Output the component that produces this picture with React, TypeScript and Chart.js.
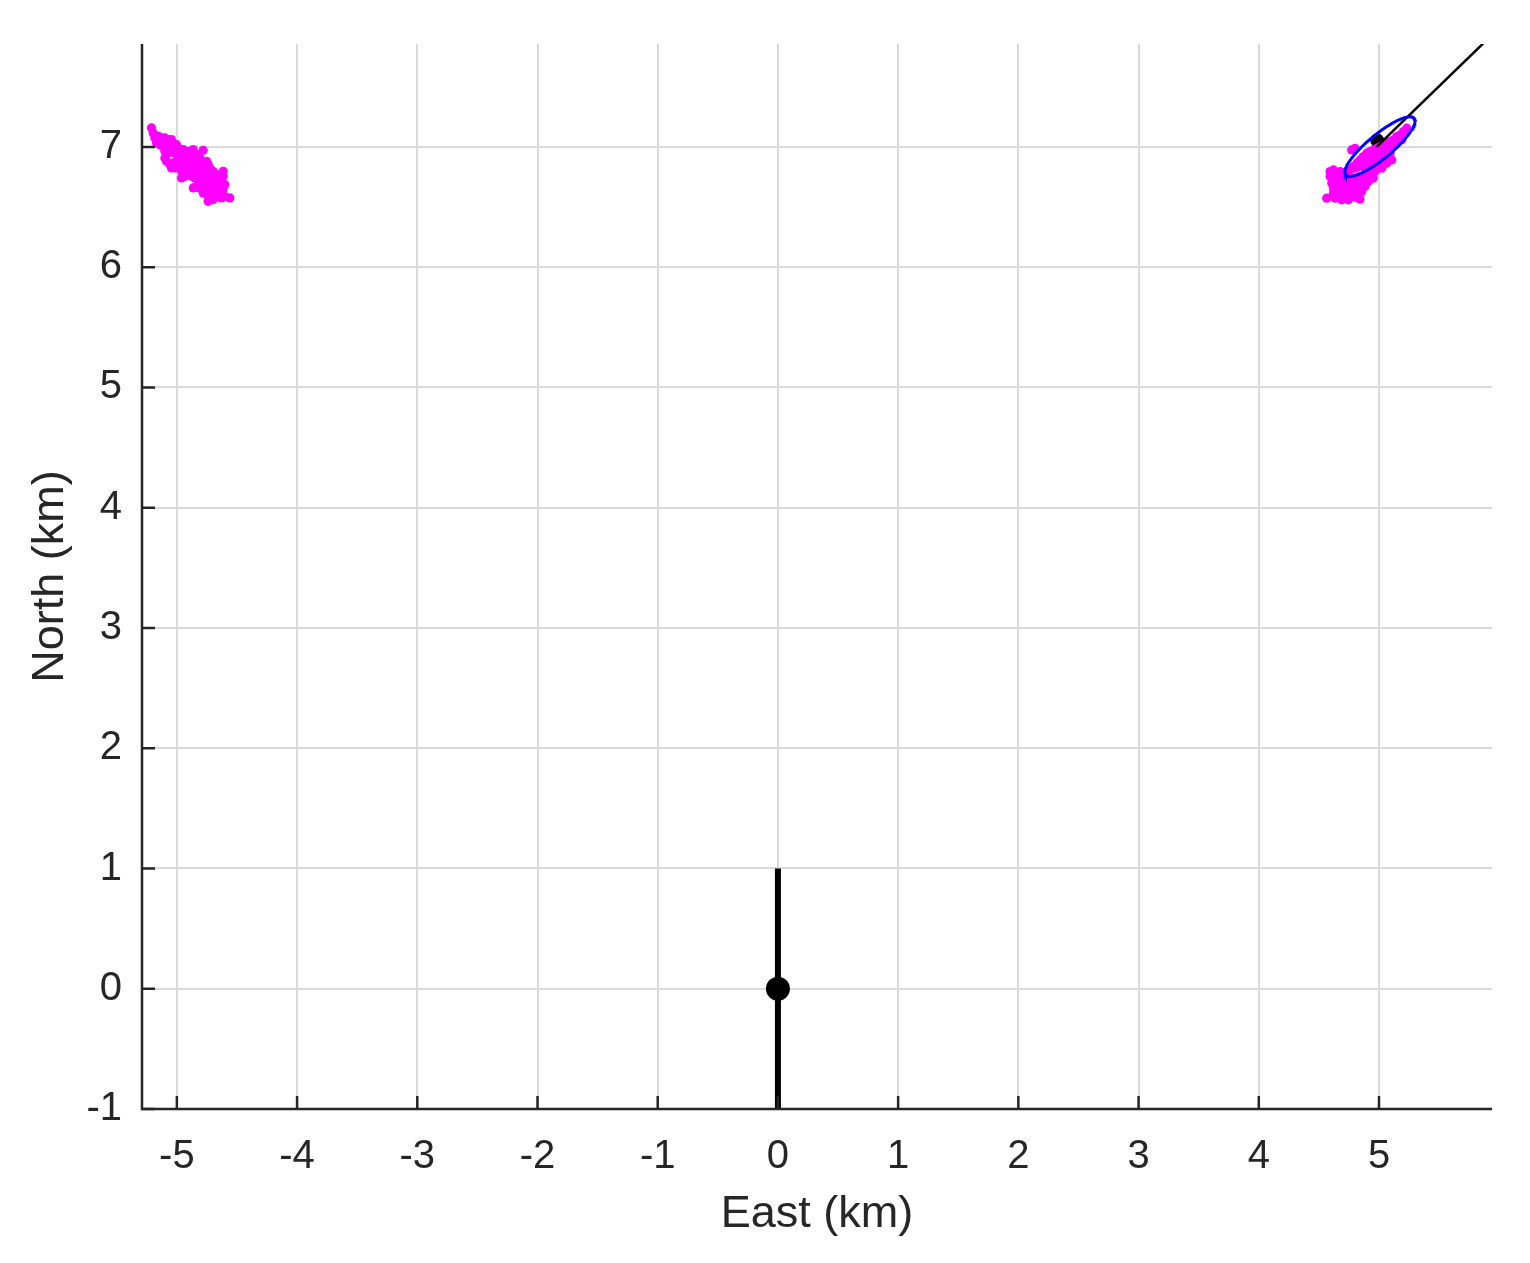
import React, { useEffect, useRef } from "react";
import { Chart, registerables } from "chart.js";

Chart.register(...registerables);

// Axis ranges and tick values (km)
const xRange = [-5.29, 5.94];
const yRange = [-1, 7.856];
const xTicks = [-5, -4, -3, -2, -1, 0, 1, 2, 3, 4, 5];
const yTicks = [-1, 0, 1, 2, 3, 4, 5, 6, 7];

// Left (western) magenta cluster
const leftEast = [
  -5.211, -5.197, -5.183, -5.155, -5.128, -5.100, -5.072, -5.045, -5.169, -5.142,
  -5.114, -5.086, -5.058, -5.031, -5.003, -4.989, -4.975, -4.947, -4.920, -4.892,
  -4.864, -4.850, -4.781, -5.100, -5.072, -5.045, -5.017, -4.989, -4.961, -4.934,
  -4.906, -4.878, -4.837, -4.809, -4.795, -4.753, -4.740, -5.100, -5.086, -5.058,
  -5.031, -5.003, -4.975, -4.947, -4.920, -4.892, -4.864, -4.837, -4.809, -4.781,
  -4.753, -4.726, -4.698, -4.670, -4.615, -4.615, -5.045, -5.017, -4.989, -4.961,
  -4.934, -4.906, -4.878, -4.850, -4.823, -4.795, -4.767, -4.740, -4.712, -4.684,
  -4.642, -4.961, -4.934, -4.906, -4.878, -4.850, -4.823, -4.795, -4.767, -4.740,
  -4.712, -4.670, -4.629, -4.601, -4.864, -4.837, -4.809, -4.781, -4.753, -4.726,
  -4.698, -4.656, -4.615, -4.781, -4.753, -4.712, -4.670, -4.629, -4.740, -4.698,
  -4.559, -4.601,
];
const leftNorth = [
  7.158, 7.116, 7.075, 7.089, 7.075, 7.075, 7.061, 7.061, 7.033, 7.019,
  7.005, 7.019, 7.019, 7.005, 7.019, 6.992, 6.978, 6.978, 6.964, 6.964,
  6.978, 6.950, 6.972, 6.964, 6.950, 6.964, 6.950, 6.936, 6.936, 6.922,
  6.922, 6.922, 6.922, 6.908, 6.881, 6.881, 6.853, 6.908, 6.881, 6.853,
  6.867, 6.881, 6.895, 6.881, 6.867, 6.881, 6.867, 6.853, 6.839, 6.825,
  6.825, 6.825, 6.798, 6.770, 6.798, 6.756, 6.825, 6.825, 6.839, 6.798,
  6.811, 6.825, 6.811, 6.798, 6.784, 6.770, 6.784, 6.770, 6.742, 6.728,
  6.728, 6.742, 6.756, 6.770, 6.756, 6.742, 6.728, 6.714, 6.728, 6.714,
  6.687, 6.687, 6.687, 6.687, 6.659, 6.673, 6.659, 6.645, 6.659, 6.645,
  6.631, 6.631, 6.645, 6.618, 6.604, 6.604, 6.590, 6.576, 6.548, 6.562,
  6.576, 6.590,
];

// Right (eastern) magenta cluster
const rightEast = [
  5.231, 5.203, 5.175, 5.147, 5.120, 5.092, 5.064, 5.036, 5.009, 4.981,
  4.953, 4.926, 4.898, 4.870, 4.842, 4.815, 4.787, 4.759, 5.161, 5.134,
  5.106, 5.078, 5.050, 5.023, 4.995, 4.967, 4.939, 4.912, 4.884, 4.856,
  4.828, 4.801, 5.189, 5.092, 5.050, 5.009, 4.967, 4.926, 4.884, 4.773,
  4.801, 5.023, 5.106, 5.064,
  4.593, 4.621, 4.648, 4.676, 4.704, 4.731, 4.745, 4.593, 4.634, 4.676,
  4.718, 4.759, 4.801, 4.842, 4.884, 4.926, 4.967, 4.607, 4.648, 4.690,
  4.731, 4.773, 4.815, 4.856, 4.912, 4.953, 4.621, 4.662, 4.704, 4.745,
  4.787, 4.828, 4.884, 4.621, 4.676, 4.718, 4.759, 4.801, 4.856, 4.565,
  4.634, 4.690, 4.745, 4.801, 4.842,
];
const rightNorth = [
  7.156, 7.128, 7.100, 7.086, 7.059, 7.045, 7.031, 7.017, 7.003, 6.989,
  6.975, 6.962, 6.948, 6.920, 6.892, 6.865, 6.837, 6.809, 7.045, 7.017,
  7.003, 6.989, 6.975, 6.948, 6.934, 6.920, 6.906, 6.892, 6.865, 6.851,
  6.837, 6.823, 7.059, 6.948, 6.920, 6.892, 6.865, 6.851, 6.823, 6.975,
  6.989, 6.823, 6.892, 6.865,
  6.795, 6.809, 6.782, 6.795, 6.782, 6.795, 6.768, 6.754, 6.740, 6.740,
  6.740, 6.726, 6.740, 6.754, 6.768, 6.782, 6.795, 6.698, 6.698, 6.685,
  6.698, 6.685, 6.698, 6.712, 6.712, 6.740, 6.657, 6.643, 6.657, 6.643,
  6.643, 6.657, 6.671, 6.615, 6.601, 6.615, 6.601, 6.615, 6.629, 6.574,
  6.574, 6.560, 6.560, 6.582, 6.565,
];

// Sensor (origin) and its baseline
const sensorEast = [0];
const sensorNorth = [0];
const baselineEast = [0, 0];
const baselineNorth = [-1, 1];

// Bearing line and its start marker
const bearingEast = [4.98, 6.0];
const bearingNorth = [7.0, 7.99];
const startEast = [4.985];
const startNorth = [7.055];

// Error ellipse (center, semi-axes in km, orientation in degrees)
const ellipseCenter = [5.008, 7.003];
const ellipseAxes = [0.37, 0.1];
const ellipseAngleDeg = 39.6;

const zip = (xs: number[], ys: number[]) => xs.map((x, i) => ({ x, y: ys[i] }));

function ellipsePoints() {
  const pts: { x: number; y: number }[] = [];
  const a = (ellipseAngleDeg * Math.PI) / 180;
  const n = 120;
  for (let i = 0; i <= n; i++) {
    const t = (2 * Math.PI * i) / n;
    const u = ellipseAxes[0] * Math.cos(t);
    const v = ellipseAxes[1] * Math.sin(t);
    pts.push({
      x: ellipseCenter[0] + u * Math.cos(a) - v * Math.sin(a),
      y: ellipseCenter[1] + u * Math.sin(a) + v * Math.cos(a),
    });
  }
  return pts;
}

const AXIS_COLOR = "#262626";
const GRID_COLOR = "#dadada";
const FONT = "Arial, 'Liberation Sans', Helvetica, sans-serif";

const inwardTicks = {
  id: "inwardTicks",
  afterDatasetsDraw(chart: any) {
    const { ctx, chartArea, scales } = chart;
    ctx.save();
    ctx.strokeStyle = AXIS_COLOR;
    ctx.lineWidth = 2.5;
    ctx.beginPath();
    for (const v of xTicks) {
      const px = scales.x.getPixelForValue(v);
      ctx.moveTo(px, chartArea.bottom);
      ctx.lineTo(px, chartArea.bottom - 13);
    }
    for (const v of yTicks) {
      const py = scales.y.getPixelForValue(v);
      ctx.moveTo(chartArea.left, py);
      ctx.lineTo(chartArea.left + 13, py);
    }
    ctx.stroke();
    ctx.beginPath();
    ctx.moveTo(chartArea.left, chartArea.top);
    ctx.lineTo(chartArea.left, chartArea.bottom);
    ctx.lineTo(chartArea.right, chartArea.bottom);
    ctx.stroke();
    ctx.restore();
  },
};

export default function App() {
  const ref = useRef<HTMLCanvasElement | null>(null);

  useEffect(() => {
    if (!ref.current) return;
    const chart = new Chart(ref.current, {
      type: "scatter",
      data: {
        datasets: [
          {
            label: "ellipse",
            data: ellipsePoints(),
            showLine: true,
            borderColor: "#0000ff",
            borderWidth: 3,
            pointRadius: 0,
            fill: false,
            tension: 0,
            order: 0,
            clip: 0,
          } as any,
          {
            label: "bearing",
            data: zip(bearingEast, bearingNorth),
            showLine: true,
            borderColor: "#000000",
            borderWidth: 2.5,
            pointRadius: 0,
            order: 1,
            clip: 0,
          } as any,
          {
            label: "right",
            data: zip(rightEast, rightNorth),
            backgroundColor: "#ff00ff",
            borderColor: "#ff00ff",
            borderWidth: 0,
            pointRadius: 4.6,
            order: 2,
          },
          {
            label: "left",
            data: zip(leftEast, leftNorth),
            backgroundColor: "#ff00ff",
            borderColor: "#ff00ff",
            borderWidth: 0,
            pointRadius: 4.6,
            order: 2,
          },
          {
            label: "start",
            data: zip(startEast, startNorth),
            backgroundColor: "#000000",
            borderWidth: 0,
            pointRadius: 7,
            order: 3,
          },
          {
            label: "sensor",
            data: zip(sensorEast, sensorNorth),
            backgroundColor: "#000000",
            borderWidth: 0,
            pointRadius: 12,
            order: 4,
          },
          {
            label: "baseline",
            data: zip(baselineEast, baselineNorth),
            showLine: true,
            borderColor: "#000000",
            borderWidth: 6,
            pointRadius: 0,
            order: 5,
            clip: 0,
          } as any,
        ],
      },
      options: {
        responsive: false,
        animation: false,
        devicePixelRatio: 1,
        layout: { padding: { left: 0, top: 44, right: 38, bottom: 0 } },
        plugins: { legend: { display: false }, tooltip: { enabled: false } },
        scales: {
          x: {
            type: "linear",
            min: xRange[0],
            max: xRange[1],
            afterFit: (s: any) => {
              s.height = 154;
            },
            afterBuildTicks: (s: any) => {
              s.ticks = xTicks.map((v) => ({ value: v }));
            },
            grid: { color: GRID_COLOR, lineWidth: 2, drawTicks: false },
            border: { display: false },
            ticks: {
              color: AXIS_COLOR,
              font: { family: FONT, size: 40 },
              padding: 24,
              maxRotation: 0,
              autoSkip: false,
              callback: (v: any) => String(v),
            },
            title: {
              display: true,
              text: "East (km)",
              color: AXIS_COLOR,
              font: { family: FONT, size: 45 },
              padding: { top: 0, bottom: 21 },
            },
          },
          y: {
            type: "linear",
            min: yRange[0],
            max: yRange[1],
            afterFit: (s: any) => {
              s.width = 142;
            },
            afterBuildTicks: (s: any) => {
              s.ticks = yTicks.map((v) => ({ value: v }));
            },
            grid: { color: GRID_COLOR, lineWidth: 2, drawTicks: false },
            border: { display: false },
            ticks: {
              color: AXIS_COLOR,
              font: { family: FONT, size: 40 },
              padding: 20,
              autoSkip: false,
              callback: (v: any) => String(v),
            },
            title: {
              display: true,
              text: "North (km)",
              color: AXIS_COLOR,
              font: { family: FONT, size: 45 },
              padding: { top: 24, bottom: 0 },
            },
          },
        },
      },
      plugins: [inwardTicks],
    });
    return () => chart.destroy();
  }, []);

  return (
    <div style={{ position: "absolute", left: 0, top: 0, width: 1530, height: 1263, background: "#fff" }}>
      <canvas ref={ref} width={1530} height={1263} />
    </div>
  );
}
